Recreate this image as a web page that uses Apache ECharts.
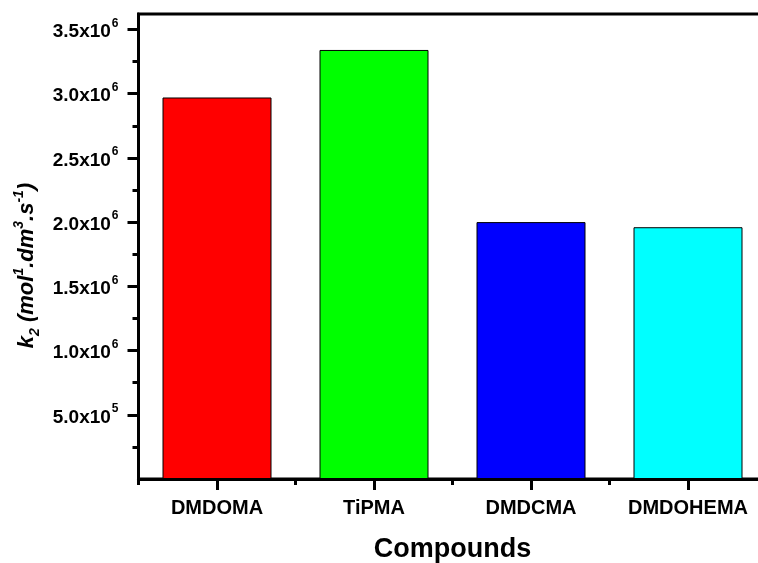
<!DOCTYPE html>
<html>
<head>
<meta charset="utf-8">
<script src="https://cdn.jsdelivr.net/npm/echarts@6/dist/echarts.min.js"></script>
<style>html,body{margin:0;padding:0;background:#fff;}#c{width:758px;height:563px;}</style>
</head>
<body>
<div id="c"></div>
<script>
var categories = ['DMDOMA', 'TiPMA', 'DMDCMA', 'DMDOHEMA'];
var values = [2.97e6, 3.34e6, 2.0e6, 1.96e6];
var barColors = ['#FF0000', '#00FF00', '#0000FF', '#00FFFF'];
var yMajorTicks = [5e5, 1e6, 1.5e6, 2e6, 2.5e6, 3e6, 3.5e6];
var yMinorTicks = [2.5e5, 7.5e5, 1.25e6, 1.75e6, 2.25e6, 2.75e6, 3.25e6];
var xMajorTicks = [1, 2, 3, 4];
var xMinorTicks = [0.5, 1.5, 2.5, 3.5];

function fmtY(v) {
  var exp = Math.floor(Math.log10(v) + 1e-9);
  var mant = (v / Math.pow(10, exp)).toFixed(1);
  return '{b|' + mant + 'x10}{s|' + exp + '}';
}

var chart = echarts.init(document.getElementById('c'), null, {renderer: 'canvas'});
var FONT = '"Liberation Sans", Arial, sans-serif';
var option = {
  animation: false,
  backgroundColor: '#ffffff',
  grid: {left: 138.5, width: 628, top: 14, bottom: 84, outerBoundsMode: 'none', containLabel: false,
    show: true, borderColor: '#000', borderWidth: 3, backgroundColor: 'transparent'},
  xAxis: [{
    type: 'value', min: 0.5, max: 4.5, position: 'bottom',
    axisLine: {show: true, lineStyle: {color: '#000', width: 3}},
    axisTick: {show: true, customValues: xMajorTicks, length: 11, lineStyle: {color: '#000', width: 3}},
    axisLabel: {show: true, customValues: xMajorTicks, margin: 19,
      formatter: function (v) { return categories[Math.round(v) - 1] || ''; },
      color: '#000', fontFamily: FONT, fontWeight: 'bold', fontSize: 20},
    splitLine: {show: false},
    name: 'Compounds', nameLocation: 'middle', nameGap: 57,
    nameTextStyle: {color: '#000', fontFamily: FONT, fontWeight: 'bold', fontSize: 27}
  }, {
    type: 'value', min: 0.5, max: 4.5, position: 'bottom',
    axisLine: {show: false},
    axisTick: {show: true, customValues: xMinorTicks, length: 6, lineStyle: {color: '#000', width: 3}},
    axisLabel: {show: false},
    splitLine: {show: false}
  }],
  yAxis: [{
    type: 'value', min: 0, max: 3.62e6, position: 'left',
    axisLine: {show: true, lineStyle: {color: '#000', width: 3}},
    axisTick: {show: true, customValues: yMajorTicks, length: 11, lineStyle: {color: '#000', width: 3}},
    axisLabel: {show: true, customValues: yMajorTicks, margin: 20, formatter: fmtY,
      rich: {
        b: {color: '#000', fontFamily: FONT, fontWeight: 'bold', fontSize: 19, lineHeight: 24, verticalAlign: 'bottom'},
        s: {color: '#000', fontFamily: FONT, fontWeight: 'bold', fontSize: 12, verticalAlign: 'top', padding: [0, 0, 0, 1]}
      }},
    splitLine: {show: false},
    name: '{t|k}{sub|2}{t| (mol}{sup|1}{t|.dm}{sup|3}{t|.s}{sup|-1}{t|)}',
    nameLocation: 'middle', nameGap: 96, nameRotate: 90,
    nameTextStyle: {
      padding: [0, 38, 0, 0],
      rich: {
        t: {color: '#000', fontFamily: FONT, fontWeight: 'bold', fontStyle: 'italic', fontSize: 22, lineHeight: 30, verticalAlign: 'middle'},
        sub: {color: '#000', fontFamily: FONT, fontWeight: 'bold', fontStyle: 'italic', fontSize: 14, verticalAlign: 'bottom'},
        sup: {color: '#000', fontFamily: FONT, fontWeight: 'bold', fontStyle: 'italic', fontSize: 14, verticalAlign: 'top'}
      }
    }
  }, {
    type: 'value', min: 0, max: 3.62e6, position: 'left',
    axisLine: {show: false},
    axisTick: {show: true, customValues: yMinorTicks, length: 6, lineStyle: {color: '#000', width: 3}},
    axisLabel: {show: false},
    splitLine: {show: false}
  }],
  series: [{
    type: 'bar',
    xAxisIndex: 0, yAxisIndex: 0,
    barWidth: 109,
    data: values.map(function (v, i) {
      return {value: [i + 1, v], itemStyle: {color: barColors[i], borderColor: '#000', borderWidth: 1}};
    })
  }]
};
chart.setOption(option);
</script>
</body>
</html>
